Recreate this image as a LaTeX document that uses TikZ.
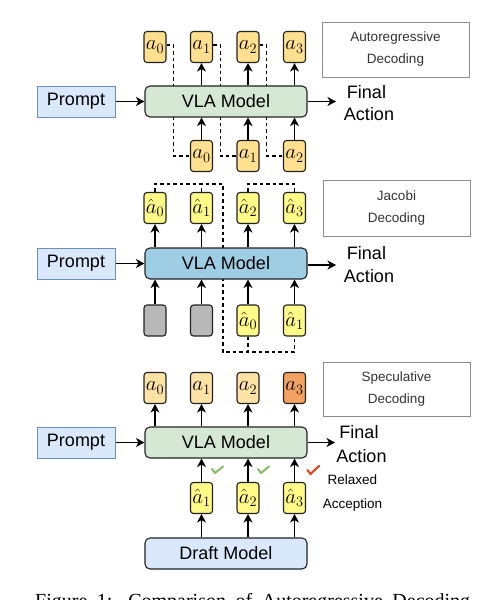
\documentclass[tikz,border=0pt]{standalone}
\usepackage{fontspec}
\setmainfont{Liberation Sans}
\newfontfamily\capfont{Liberation Serif}
\usetikzlibrary{arrows.meta,backgrounds}
\definecolor{promptfill}{HTML}{DAE8FC}
\definecolor{promptborder}{HTML}{6C8EBF}
\definecolor{vlagreen}{HTML}{D5E8D4}
\definecolor{vlablue}{HTML}{9FCDE4}
\definecolor{tokgold}{HTML}{FFE08F}
\definecolor{tokpeach}{HTML}{FFE2A6}
\definecolor{tokorange}{HTML}{F4A261}
\definecolor{tokyellow}{HTML}{FFFA88}
\definecolor{tokgray}{HTML}{B8B8B8}
\definecolor{edgedark}{HTML}{222222}
\definecolor{decborder}{HTML}{8C8C8C}
\definecolor{dectext}{HTML}{333333}
\definecolor{okgreen}{HTML}{8CC06E}
\definecolor{okred}{HTML}{DD4B26}
\tikzset{
  tok/.style={draw=edgedark, rounded corners=3pt, minimum width=22pt, minimum height=31pt,
    inner sep=0pt, line width=1.1pt, font=\fontsize{20.74}{21}\selectfont},
  model/.style={draw=edgedark, rounded corners=5pt, minimum width=162pt, minimum height=31pt,
    inner sep=0pt, line width=1.1pt, font=\fontsize{18}{18}\selectfont},
  promptbox/.style={draw=promptborder, fill=promptfill, minimum width=78pt, minimum height=31pt,
    inner sep=0pt, line width=1pt, font=\fontsize{18}{18}\selectfont},
  decbox/.style={draw=decborder, fill=white, minimum width=147pt, inner sep=0pt, line width=1pt,
    align=center, text=dectext, font=\fontsize{13.5}{22}\selectfont},
  bigtxt/.style={anchor=base, inner sep=0pt, font=\fontsize{18}{18}\selectfont},
  smalltxt/.style={anchor=base, inner sep=0pt, font=\fontsize{13.5}{13.5}\selectfont},
  arr/.style={-{Stealth[length=8.5pt,width=9pt,inset=2.5pt]}, line width=1.3pt},
  dline/.style={dash pattern=on 3.5pt off 3pt, line width=1.1pt},
  check/.style={line width=2.2pt, line cap=round, line join=round},
}
\begin{document}
\begin{tikzpicture}[x=1pt,y=-1pt]
\useasboundingbox (0,0) rectangle (490,600);

% ================= Panel 1: Autoregressive =================
\node[promptbox] (pr1) at (76,101.5) {Prompt};
\node[model, fill=vlagreen] (m1) at (226,101.5) {VLA Model};
\node[tok, fill=tokgold] (o10) at (155,47) {$a_0$};
\node[tok, fill=tokgold] (o11) at (201.5,47) {$a_1$};
\node[tok, fill=tokgold] (o12) at (248,47) {$a_2$};
\node[tok, fill=tokgold] (o13) at (294.5,47) {$a_3$};
\node[tok, fill=tokgold] (i10) at (201.5,156) {$a_0$};
\node[tok, fill=tokgold] (i11) at (248,156) {$a_1$};
\node[tok, fill=tokgold] (i12) at (294.5,156) {$a_2$};
\node[decbox, minimum height=55pt] (d1) at (395.5,49.5) {Autoregressive\\Decoding};
\coordinate (f1) at (336,101.5);
\node[bigtxt] (fin1) at (366.5,98) {Final};
\node[bigtxt] (act1) at (369,120) {Action};

\draw[arr] (pr1) -- (m1);
\draw[arr] (m1.east) -- (f1);
\foreach \k in {1,2,3}{\draw[arr] (m1.north -| o1\k) -- (o1\k.south);}
\foreach \k in {0,1,2}{\draw[arr] (i1\k.north) -- (m1.south -| i1\k);}
\begin{scope}[on background layer]
\foreach \k in {0,1,2}{\draw[dline] ([yshift=2pt]o1\k.east) -- ++(7,0) |- (i1\k.west);}
\end{scope}

% ================= Panel 2: Jacobi =================
\node[promptbox] (pr2) at (76,263.5) {Prompt};
\node[model, fill=vlablue] (m2) at (226,263.5) {VLA Model};
\node[tok, fill=tokyellow] (o20) at (155,208) {$\hat{a}_0$};
\node[tok, fill=tokyellow] (o21) at (201.5,208) {$\hat{a}_1$};
\node[tok, fill=tokyellow] (o22) at (248,208) {$\hat{a}_2$};
\node[tok, fill=tokyellow] (o23) at (294.5,208) {$\hat{a}_3$};
\node[tok, fill=tokgray] (i20) at (155,320.5) {};
\node[tok, fill=tokgray] (i21) at (201.5,320.5) {};
\node[tok, fill=tokyellow] (i22) at (248,320.5) {$\hat{a}_0$};
\node[tok, fill=tokyellow] (i23) at (294.5,320.5) {$\hat{a}_1$};
\node[decbox, minimum height=56pt] (d2) at (396.5,208) {Jacobi\\Decoding};
\coordinate (f2) at (336,265);
\node[bigtxt] (fin2) at (366.5,259) {Final};
\node[bigtxt] (act2) at (369,282) {Action};

\draw[arr] (pr2) -- (m2);
\draw[arr] (m2.east |- f2) -- (f2);
\foreach \k in {0,1,2,3}{\draw[arr] (m2.north -| o2\k) -- (o2\k.south);}
\foreach \k in {0,1,2,3}{\draw[arr] (i2\k.north) -- (m2.south -| i2\k);}
\coordinate (j1) at (223,184);
\coordinate (j2) at (223,352);
\begin{scope}[on background layer]
\draw[dline] (o20.north) |- (j1) -- (j2) -| (i23.south);
\draw[dline] (o21.north) -- (o21.north |- j1);
\draw[dline] (i22.south) -- (i22.south |- j2);
\draw[dline] (o22.north) -- (o22.north |- j1) -| (o23.north);
\end{scope}

% ================= Panel 3: Speculative =================
\node[promptbox] (pr3) at (76,442.5) {Prompt};
\node[model, fill=vlagreen] (m3) at (226,442.5) {VLA Model};
\node[tok, fill=tokpeach] (o30) at (155,388) {$a_0$};
\node[tok, fill=tokpeach] (o31) at (201.5,388) {$a_1$};
\node[tok, fill=tokpeach] (o32) at (248,388) {$a_2$};
\node[tok, fill=tokorange] (o33) at (294.5,388) {$a_3$};
\node[tok, fill=tokyellow] (h1) at (201.5,498) {$\hat{a}_1$};
\node[tok, fill=tokyellow] (h2) at (248,498) {$\hat{a}_2$};
\node[tok, fill=tokyellow] (h3) at (294.5,498) {$\hat{a}_3$};
\node[model, fill=promptfill] (dm) at (226,553.5) {Draft Model};
\node[decbox, minimum height=54pt] (d3) at (396.5,389) {Speculative\\Decoding};
\coordinate (f3) at (335,442.5);
\node[bigtxt] (fin3) at (359,438) {Final};
\node[bigtxt] (act3) at (361.5,462) {Action};
\node[smalltxt] (rel) at (352.5,484) {Relaxed};
\node[smalltxt] (acc) at (352.5,508) {Acception};

\draw[arr] (pr3) -- (m3);
\draw[arr] (m3.east) -- (f3);
\foreach \k in {0,1,2,3}{\draw[arr] (m3.north -| o3\k) -- (o3\k.south);}
\foreach \k in {1,2,3}{
  \draw[arr] (h\k.north) -- (m3.south -| h\k);
  \draw[arr] (dm.north -| h\k) -- (h\k.south);
}
% check marks
\draw[check, okgreen] (212,469) -- (215,473) -- (223,466.5);
\draw[check, okgreen] (258,469) -- (261,473) -- (269,466.5);
\draw[check, okred] (307.5,470) -- (310.5,474) -- (319,466);

% ================= Caption (cut off at the page edge, as in the reference) =================
\node[anchor=base west, inner sep=0pt, font=\capfont\fontsize{20}{20}\selectfont] (cap) at (35,607)
  {\makebox[435pt][s]{Figure 1: Comparison of Autoregressive Decoding}};
\end{tikzpicture}
\end{document}
